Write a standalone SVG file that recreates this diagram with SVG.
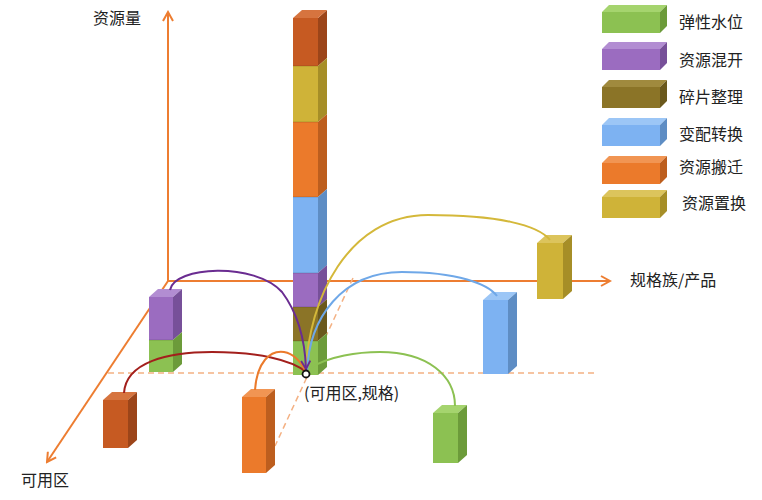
<svg xmlns="http://www.w3.org/2000/svg" width="762" height="500" viewBox="0 0 762 500">
<style>
text{font-family:"Noto Sans CJK SC","Noto Sans",sans-serif;font-size:16px;fill:#222}
.axis{stroke:#ED7D31;stroke-width:2;fill:none}
.dash{stroke:#F4B183;stroke-width:1.5;stroke-dasharray:6 4;fill:none}
.c{fill:none;stroke-width:2}
.fg{fill:#8CC152}.sg{fill:#6C9B3A}.tg{fill:#A5D46E}
.fp{fill:#9B6CC0}.sp{fill:#775099}.tp{fill:#B28DD2}
.fo{fill:#8B7427}.so{fill:#6A581C}.to{fill:#A08A3E}
.fb{fill:#7DB2F2}.sb{fill:#5E8DC4}.tb{fill:#9CC6F6}
.fr{fill:#EB7A2B}.sr{fill:#BD5E1E}.tr{fill:#F19553}
.fy{fill:#CFB338}.sy{fill:#A68E27}.ty{fill:#DCC45C}
.fd{fill:#C65A22}.sd{fill:#9C4519}.td{fill:#D6743F}
.edge{stroke:rgba(0,0,0,0.25);stroke-width:0.6}
</style>
<defs>
<marker id="ah" viewBox="0 0 12 12" refX="10" refY="6" markerWidth="12" markerHeight="12" markerUnits="userSpaceOnUse" orient="auto">
<path d="M1,1 L10,6 L1,11" fill="none" stroke="#ED7D31" stroke-width="2"/>
</marker>
<marker id="ph" viewBox="0 0 12 12" refX="10" refY="6" markerWidth="11" markerHeight="11" markerUnits="userSpaceOnUse" orient="auto">
<path d="M1,1 L10,6 L1,11" fill="none" stroke="#6A2C91" stroke-width="2"/>
</marker>
</defs>
<rect width="762" height="500" fill="#fff"/>

<g id="axes">
<line class="axis" x1="168" y1="281" x2="168" y2="12" marker-end="url(#ah)"/>
<line class="axis" x1="168" y1="281" x2="610" y2="281" marker-end="url(#ah)"/>
<line class="axis" x1="168" y1="281" x2="47" y2="462" marker-end="url(#ah)"/>
<line class="dash" x1="108" y1="373" x2="598" y2="373"/>
<line class="dash" x1="353" y1="278" x2="275" y2="446"/>
</g>

<g id="axis-labels">
<text x="93" y="24">资源量</text>
<text x="630" y="286">规格族/产品</text>
<text x="21" y="486">可用区</text>
</g>

<g id="block-left-dark-orange">
<rect class="fd" x="103" y="400" width="25" height="48"/>
<polygon class="td" points="103,400 112,392 137,392 128,400"/>
<polygon class="sd" points="128,400 137,392 137,440 128,448"/>
</g>

<g id="block-left-column">
<rect class="fp" x="149" y="297" width="24" height="43"/>
<rect class="fg" x="149" y="340" width="24" height="32"/>
<polygon class="tp" points="149,297 158,289 182,289 173,297"/>
<polygon class="sp" points="173,297 182,289 182,332 173,340"/>
<polygon class="sg" points="173,340 182,332 182,364 173,372"/>
<line class="edge" x1="149" y1="340" x2="173" y2="340"/>
</g>

<g id="block-orange-mid">
<rect class="fr" x="242" y="397" width="24" height="76"/>
<polygon class="tr" points="242,397 251,389 275,389 266,397"/>
<polygon class="sr" points="266,397 275,389 275,465 266,473"/>
</g>

<g id="block-tall-column">
<rect class="fd" x="293" y="18" width="25" height="48"/>
<polygon class="sd" points="318,18 327,10 327,58 318,66"/>
<rect class="fy" x="293" y="66" width="25" height="56"/>
<polygon class="sy" points="318,66 327,58 327,114 318,122"/>
<rect class="fr" x="293" y="122" width="25" height="75"/>
<polygon class="sr" points="318,122 327,114 327,189 318,197"/>
<rect class="fb" x="293" y="197" width="25" height="76"/>
<polygon class="sb" points="318,197 327,189 327,265 318,273"/>
<rect class="fp" x="293" y="273" width="25" height="34"/>
<polygon class="sp" points="318,273 327,265 327,299 318,307"/>
<rect class="fo" x="293" y="307" width="25" height="34"/>
<polygon class="so" points="318,307 327,299 327,333 318,341"/>
<rect class="fg" x="293" y="341" width="25" height="34"/>
<polygon class="sg" points="318,341 327,333 327,367 318,375"/>
<polygon class="td" points="293,18 302,10 327,10 318,18"/>
<g class="edge">
<line x1="293" y1="66" x2="318" y2="66"/><line x1="293" y1="122" x2="318" y2="122"/>
<line x1="293" y1="197" x2="318" y2="197"/><line x1="293" y1="273" x2="318" y2="273"/>
<line x1="293" y1="307" x2="318" y2="307"/><line x1="293" y1="341" x2="318" y2="341"/>
</g>
</g>

<g id="block-green-right">
<rect class="fg" x="433" y="413" width="25" height="50"/>
<polygon class="tg" points="433,413 442,405 467,405 458,413"/>
<polygon class="sg" points="458,413 467,405 467,455 458,463"/>
</g>

<g id="block-blue">
<rect class="fb" x="483" y="300" width="25" height="74"/>
<polygon class="tb" points="483,300 492,292 517,292 508,300"/>
<polygon class="sb" points="508,300 517,292 517,366 508,374"/>
</g>

<g id="block-yellow">
<rect class="fy" x="537" y="243" width="26" height="56"/>
<polygon class="ty" points="537,243 546,235 572,235 563,243"/>
<polygon class="sy" points="563,243 572,235 572,291 563,299"/>
</g>

<g id="connectors">
<path class="c" stroke="#A31F1C" d="M124,393 C126,362 168,352 212,352 C258,352 292,360 306,372"/>
<path class="c" stroke="#EB7A2B" d="M255,390 C257,362 270,350 284,352 C295,354 302,364 306,372"/>
<path class="c" stroke="#D4B83A" d="M306,372 C308,300 348,215 428,215 C498,215 538,225 550,240"/>
<path class="c" stroke="#6FA8E8" d="M307,372 C309,318 342,272 402,272 C458,272 488,284 497,296"/>
<path class="c" stroke="#8CC152" d="M310,368 C330,356 358,352 380,352 C428,352 455,376 455,406"/>
<path class="c" stroke="#6A2C91" d="M170,290 C174,266 255,262 282,292 C297,312 305,340 306,369" marker-end="url(#ph)"/>
</g>

<g id="origin">
<circle cx="306" cy="374" r="3.5" fill="#fff" stroke="#111" stroke-width="1.8"/>
<text x="304" y="399">(可用区,规格)</text>
</g>

<g id="legend">
<g id="legend-green">
<rect class="fg" x="602" y="12" width="58" height="21"/>
<polygon class="tg" points="602,12 609,5 667,5 660,12"/>
<polygon class="sg" points="660,12 667,5 667,26 660,33"/>
<text x="679" y="28">弹性水位</text>
</g>
<g id="legend-purple">
<rect class="fp" x="602" y="49" width="58" height="21"/>
<polygon class="tp" points="602,49 609,42 667,42 660,49"/>
<polygon class="sp" points="660,49 667,42 667,63 660,70"/>
<text x="679" y="66">资源混开</text>
</g>
<g id="legend-olive">
<rect class="fo" x="602" y="87" width="58" height="21"/>
<polygon class="to" points="602,87 609,80 667,80 660,87"/>
<polygon class="so" points="660,87 667,80 667,101 660,108"/>
<text x="679" y="103">碎片整理</text>
</g>
<g id="legend-blue">
<rect class="fb" x="602" y="125" width="58" height="21"/>
<polygon class="tb" points="602,125 609,118 667,118 660,125"/>
<polygon class="sb" points="660,125 667,118 667,139 660,146"/>
<text x="679" y="140">变配转换</text>
</g>
<g id="legend-orange">
<rect class="fr" x="602" y="163" width="58" height="21"/>
<polygon class="tr" points="602,163 609,156 667,156 660,163"/>
<polygon class="sr" points="660,163 667,156 667,177 660,184"/>
<text x="679" y="173">资源搬迁</text>
</g>
<g id="legend-yellow">
<rect class="fy" x="602" y="197" width="58" height="21"/>
<polygon class="ty" points="602,197 609,190 667,190 660,197"/>
<polygon class="sy" points="660,197 667,190 667,211 660,218"/>
<text x="682" y="209">资源置换</text>
</g>
</g>
</svg>
